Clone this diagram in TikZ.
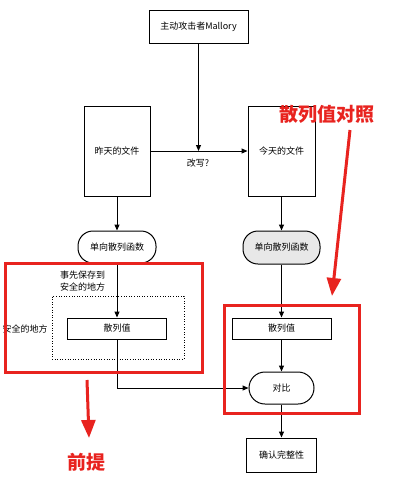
\documentclass[tikz,border=0pt]{standalone}
\usepackage{fontspec}
\setmainfont{Noto Sans CJK SC}
\usetikzlibrary{arrows.meta}
\definecolor{ann}{HTML}{E8231F}
\begin{document}
\begin{tikzpicture}[x=1pt,y=-1pt,
  box/.style={draw, line width=1pt, inner sep=0pt, font=\fontsize{9}{10}\selectfont},
  pill/.style={box, rounded corners=15pt},
  lbl/.style={inner sep=0pt, font=\fontsize{9}{12}\selectfont, align=center},
  arr/.style={-{Triangle[length=6pt,width=5pt]}, line width=1pt},
  redbox/.style={draw=ann, line width=3pt, inner sep=0pt},
  redarr/.style={draw=ann, line width=3pt, -{Triangle[length=18pt,width=14pt]}},
  redtxt/.style={text=ann, inner sep=0pt, font=\fontsize{19}{20}\selectfont\bfseries}]
\useasboundingbox (0,0) rectangle (406,483);
% main boxes
\node[box, minimum width=99pt, minimum height=33pt] (mal) at (198.5,26.5) {主动攻击者Mallory};
\node[box, minimum width=66pt, minimum height=90pt] (yest) at (117,151) {昨天的文件};
\node[box, minimum width=67pt, minimum height=90pt] (today) at (281.5,151) {今天的文件};
\node[pill, minimum width=78pt, minimum height=32pt] (hl) at (117,247) {单向散列函数};
\node[pill, fill=gray!18, minimum width=77pt, minimum height=33pt] (hr) at (281.5,247.5) {单向散列函数};
\node[draw, dotted, line width=0.6pt, minimum width=132pt, minimum height=63pt, inner sep=0pt] (safe) at (118,327.5) {};
\node[box, minimum width=99pt, minimum height=21pt] (vl) at (117,328.5) {散列值};
\node[box, minimum width=99pt, minimum height=21pt] (vr) at (281.5,328.5) {散列值};
\node[pill, minimum width=65pt, minimum height=32pt, rounded corners=16pt] (cmp) at (281.5,388) {对比};
\node[box, minimum width=70pt, minimum height=34pt] (ok) at (281.5,455) {确认完整性};
% labels
\node[lbl] (gai) at (198,163) {改写?};
\node[lbl] (pre) at (82.5,281) {事先保存到\\安全的地方};
\node[lbl] (safelbl) at (25,329) {安全的地方};
% connectors
\draw[arr] (yest.east) -- (today.west);
\coordinate (meet) at (mal.south |- yest.east);
\draw[arr] (mal.south) -- (meet);
\draw[arr] (yest.south) -- (hl.north);
\draw[arr] (today.south) -- (hr.north);
\draw[arr] (hl.south) -- (vl.north);
\draw[arr] (hr.south) -- (vr.north);
\draw[arr] (vr.south) -- (cmp.north);
\draw[arr] (cmp.south) -- (ok.north);
\draw[arr] (vl.south) |- (cmp.west);
% red annotations
\node[redbox, minimum width=197pt, minimum height=109pt] (rl) at (103.5,317.5) {};
\node[redbox, minimum width=135pt, minimum height=108pt] (rr) at (291.5,359) {};
\node[redtxt] (t1) at (327,114) {散列值对照};
\node[redtxt] (t2) at (86,462) {前提};
\coordinate (a1s) at (350,130);
\coordinate (a1e) at (332,296);
\coordinate (a2s) at (87,380);
\coordinate (a2e) at (89,438);
\draw[redarr] (a1s) -- (a1e);
\draw[redarr] (a2s) -- (a2e);
\end{tikzpicture}
\end{document}
